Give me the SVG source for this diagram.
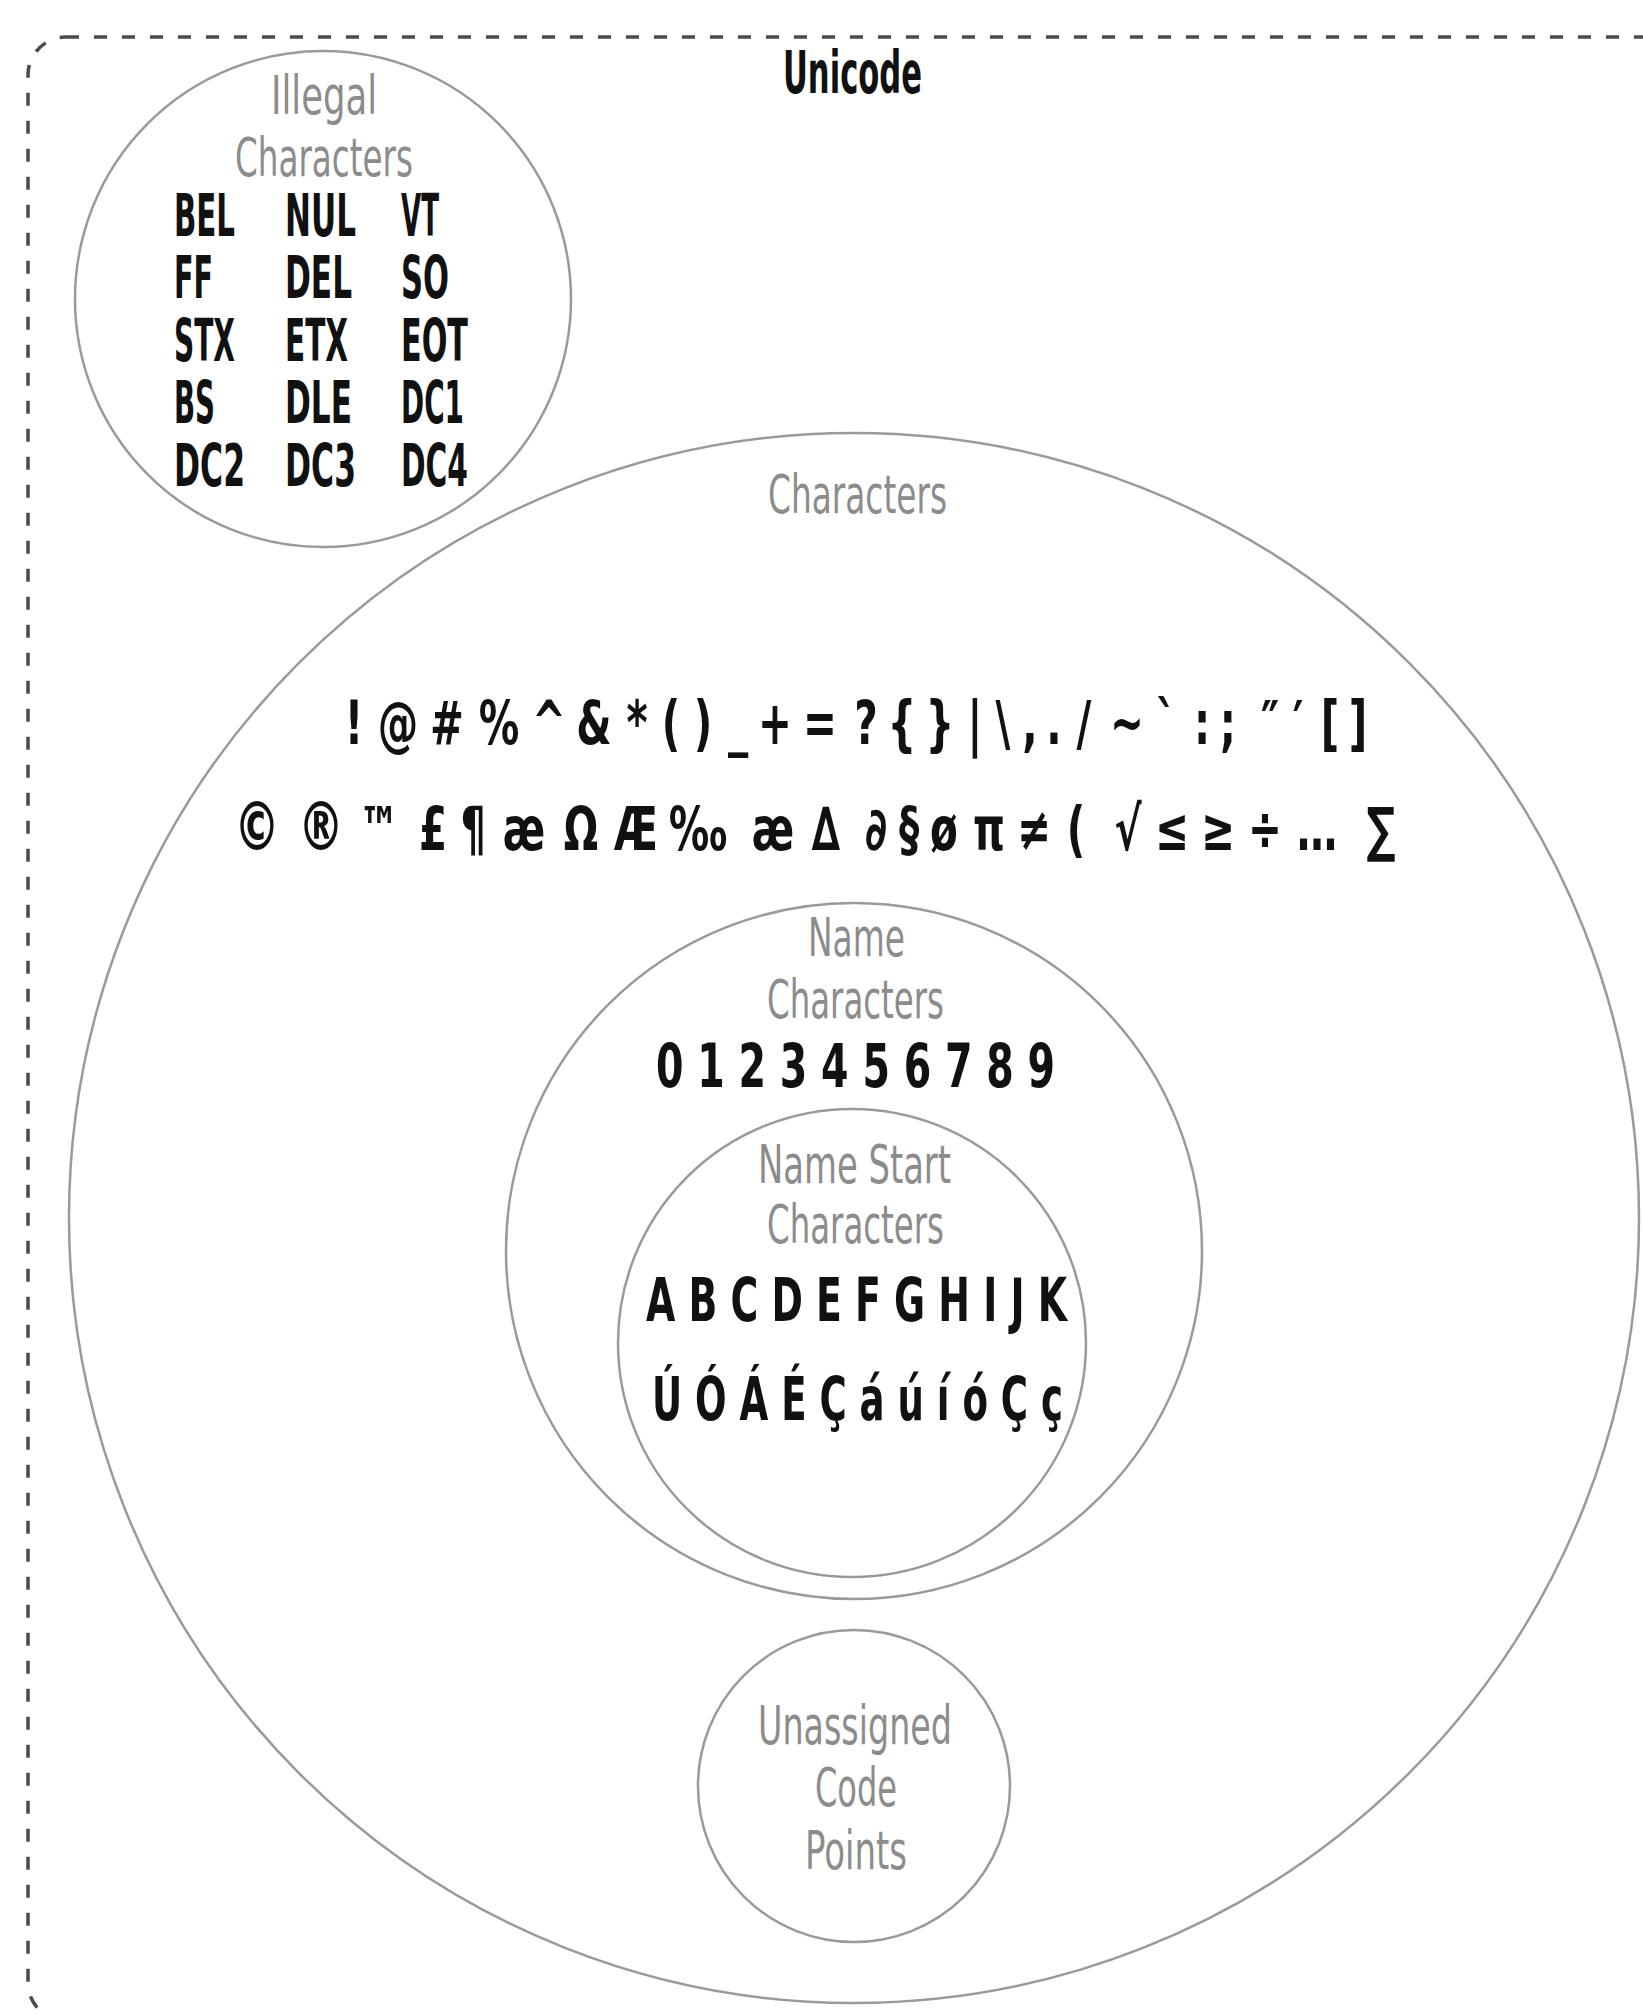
<svg xmlns="http://www.w3.org/2000/svg" width="1643" height="2014" viewBox="0 0 1643 2014">
  <style>
    .set { fill: none; stroke: #9a9a9a; stroke-width: 2.5; }
    .frame { fill: none; stroke: #4a4a4a; stroke-width: 3.5; stroke-dasharray: 13 15; }
    .t { font-family: "DejaVu Sans Condensed", "DejaVu Sans", "Liberation Sans", sans-serif; font-stretch: condensed; }
    .label { fill: #8c8c8c; font-size: 53px; font-weight: normal; }
    .ink { fill: #111; font-size: 60px; font-weight: bold; }
    .sym { fill: #111; font-size: 60px; font-weight: bold; text-anchor: middle; }
    .big { font-size: 68px; }
    .code { fill: #111; font-size: 58px; font-weight: bold; }
    .title { fill: #111; font-size: 58px; font-weight: bold; }
  </style>

  <!-- dashed outer boundary: the whole Unicode range -->
  <rect id="unicode-frame" class="frame" x="28" y="37" width="1650" height="1984" rx="38" ry="38"/>

  <g id="unicode">
    <text class="t title" x="783" y="93" textLength="139" lengthAdjust="spacingAndGlyphs">Unicode</text>
  </g>

  <g id="illegal-characters">
    <circle class="set" cx="323" cy="299" r="248"/>
    <text class="t label" x="271" y="114" textLength="106" lengthAdjust="spacingAndGlyphs">Illegal</text>
    <text class="t label" x="235" y="176" textLength="178" lengthAdjust="spacingAndGlyphs">Characters</text>
    <text class="t code" x="174" y="236" textLength="61" lengthAdjust="spacingAndGlyphs">BEL</text>
    <text class="t code" x="285" y="236" textLength="71" lengthAdjust="spacingAndGlyphs">NUL</text>
    <text class="t code" x="401" y="236" textLength="38" lengthAdjust="spacingAndGlyphs">VT</text>
    <text class="t code" x="174" y="298" textLength="39" lengthAdjust="spacingAndGlyphs">FF</text>
    <text class="t code" x="285" y="298" textLength="67" lengthAdjust="spacingAndGlyphs">DEL</text>
    <text class="t code" x="401" y="298" textLength="48" lengthAdjust="spacingAndGlyphs">SO</text>
    <text class="t code" x="174" y="361" textLength="61" lengthAdjust="spacingAndGlyphs">STX</text>
    <text class="t code" x="285" y="361" textLength="63" lengthAdjust="spacingAndGlyphs">ETX</text>
    <text class="t code" x="401" y="361" textLength="67" lengthAdjust="spacingAndGlyphs">EOT</text>
    <text class="t code" x="174" y="423" textLength="41" lengthAdjust="spacingAndGlyphs">BS</text>
    <text class="t code" x="285" y="423" textLength="67" lengthAdjust="spacingAndGlyphs">DLE</text>
    <text class="t code" x="401" y="423" textLength="63" lengthAdjust="spacingAndGlyphs">DC1</text>
    <text class="t code" x="174" y="486" textLength="71" lengthAdjust="spacingAndGlyphs">DC2</text>
    <text class="t code" x="285" y="486" textLength="71" lengthAdjust="spacingAndGlyphs">DC3</text>
    <text class="t code" x="401" y="486" textLength="67" lengthAdjust="spacingAndGlyphs">DC4</text>
  </g>

  <g id="characters">
    <circle class="set" cx="854" cy="1218" r="785"/>
    <text class="t label" x="768" y="513" textLength="179" lengthAdjust="spacingAndGlyphs">Characters</text>
    <!-- punctuation row: one glyph per centred chunk, narrowed to 75% width -->
    <text class="t sym" transform="scale(0.75 1)" y="744" x="472 530.7 596 665.3 732 792 849.3 894.7 937.3 984 1033.3 1093.3 1154.7 1202.7 1253.3 1300 1337.3 1373.3 1405.3 1445.3 1502.7 1554.7 1602.7 1637.3 1693.3 1730.7 1773.3 1810.7">!@#%^&amp;*()_+=?{}|\,./~`:;″′[]</text>
    <!-- symbol row: one glyph per centred chunk, narrowed to 75% width -->
    <text class="t sym" transform="scale(0.75 1)" y="850" x="342.7 428 505.3 577.3 630.7 698.7 774.7 848 930.7 1030.7 1101.3 1168 1212 1258.7 1318.7 1378.7 1434.7 1504 1562.7 1624 1686.7 1756 1841.3"><tspan class="big">©®</tspan>™£¶æΩÆ‰æ∆∂§øπ≠(√≤≥÷…∑</text>
  </g>

  <g id="name-characters">
    <circle class="set" cx="854" cy="1251" r="348"/>
    <text class="t label" x="808" y="956" textLength="97" lengthAdjust="spacingAndGlyphs">Name</text>
    <text class="t label" x="767" y="1018" textLength="177" lengthAdjust="spacingAndGlyphs">Characters</text>
    <text class="t ink" x="656" y="1087" textLength="399" lengthAdjust="spacingAndGlyphs">0 1 2 3 4 5 6 7 8 9</text>
  </g>

  <g id="name-start-characters">
    <circle class="set" cx="852" cy="1343" r="234"/>
    <text class="t label" x="758" y="1183" textLength="193" lengthAdjust="spacingAndGlyphs">Name Start</text>
    <text class="t label" x="767" y="1243" textLength="177" lengthAdjust="spacingAndGlyphs">Characters</text>
    <text class="t ink" x="646" y="1321" textLength="421" lengthAdjust="spacingAndGlyphs">A B C D E F G H I J K</text>
    <text class="t ink" x="652" y="1420" textLength="411" lengthAdjust="spacingAndGlyphs">Ú Ó Á É Ç á ú í ó Ç ç</text>
  </g>

  <g id="unassigned-code-points">
    <circle class="set" cx="854" cy="1786" r="156"/>
    <text class="t label" x="758" y="1744" textLength="194" lengthAdjust="spacingAndGlyphs">Unassigned</text>
    <text class="t label" x="815" y="1806" textLength="82" lengthAdjust="spacingAndGlyphs">Code</text>
    <text class="t label" x="805" y="1869" textLength="102" lengthAdjust="spacingAndGlyphs">Points</text>
  </g>

  <g id="connectors"/>
</svg>
